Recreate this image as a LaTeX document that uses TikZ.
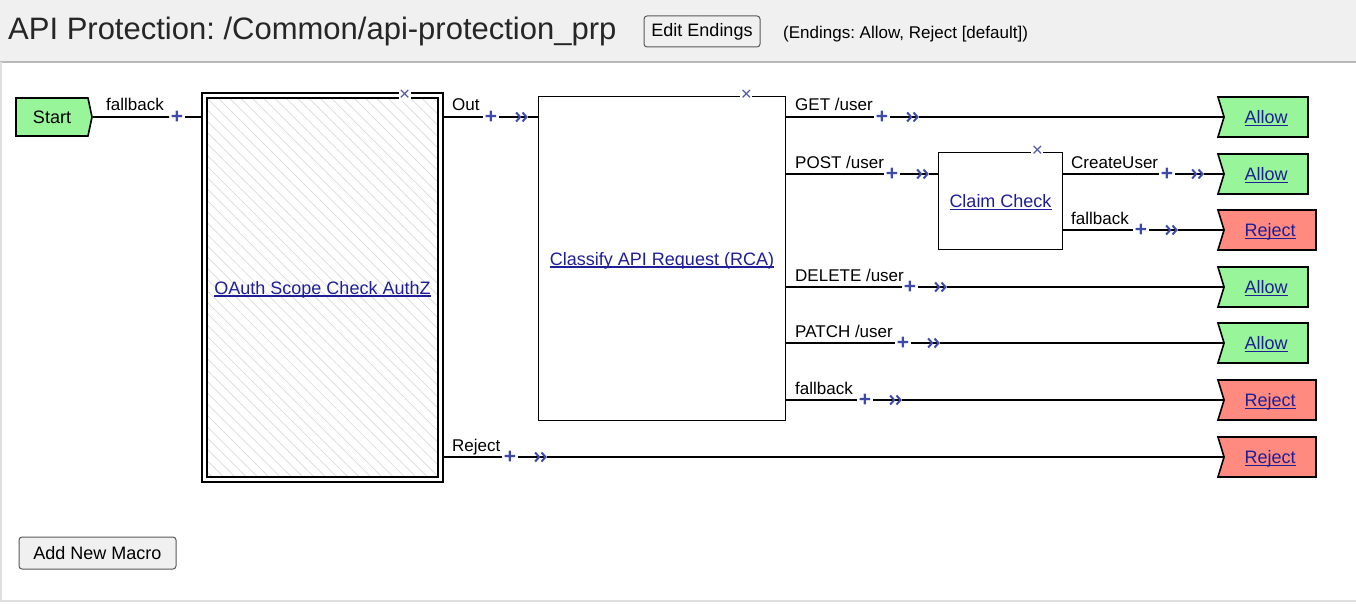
\documentclass[tikz,border=0pt]{standalone}
\usepackage{fontspec}
\setmainfont{Liberation Sans}
\usetikzlibrary{arrows.meta, positioning, shapes.symbols, patterns.meta}

\definecolor{okgreen}{RGB}{153,245,153}
\definecolor{nogred}{RGB}{255,138,128}
\definecolor{linkblue}{RGB}{30,30,150}
\definecolor{markblue}{RGB}{60,75,170}
\definecolor{hdrgray}{RGB}{240,240,240}

% underlined link text
\newcommand\lnk[1]{\sbox0{#1}\makebox[0pt][l]{\raisebox{-2.6pt}[0pt][0pt]{\rule{\wd0}{1.3pt}}}\usebox0}

\tikzset{chevs/.tip={Straight Barb[length=4pt, width=9pt, line width=2pt, color=markblue] Straight Barb[length=4pt, width=9pt, line width=2pt, color=markblue]}}

\begin{document}
\frenchspacing
\begin{tikzpicture}[
    x=1pt, y=-1pt,
    wire/.style={line width=1.6pt, black},
    lbl/.style={anchor=base west, inner sep=0pt, font=\fontsize{17}{20}\selectfont},
    plus/.style={text=markblue, font=\fontsize{21}{21}\selectfont\bfseries, inner sep=1.5pt},
    macrobox/.style={draw, line width=1.6pt, fill=white, inner sep=0pt, text=linkblue, font=\fontsize{18}{20}\selectfont, text height=13pt, text depth=0pt},
    ending/.style={signal, signal from=west, signal to=nowhere, signal pointer angle=146, draw, line width=1.6pt, minimum height=40pt, inner sep=0pt, text=linkblue, font=\fontsize{18}{20}\selectfont, text height=13pt, text depth=0pt},
    allow/.style={ending, fill=okgreen, minimum width=90pt},
    reject/.style={ending, fill=nogred, minimum width=98pt},
    xmark/.style={text=markblue!75!gray, fill=white, inner sep=0.5pt, font=\fontsize{19}{19}\selectfont},
    button/.style={draw=gray!70!black, fill=hdrgray, rounded corners=3pt, line width=1pt, inner sep=0pt, font=\fontsize{18}{20}\selectfont}
]
\useasboundingbox (0,0) rectangle (1356,604);

% header
\fill[hdrgray] (0,0) rectangle (1356,62);
\draw[gray!55, line width=1.5pt] (0,62) -- (1356,62);
\draw[gray!25, line width=2pt] (1,62) -- (1,601) -- (1356,601);
\node[anchor=base west, inner sep=0pt, font=\fontsize{31}{36}\selectfont, text=black!85] (title) at (8,40) {API Protection: /Common/api-protection\_prp};
\node[button, minimum width=116pt, minimum height=31pt] (edit) at (702,31.5) {Edit Endings};
\node[lbl] (note) at (783,39) {(Endings: Allow, Reject [default])};

% macro boxes
\node[signal, signal to=east, signal pointer angle=156, draw, line width=1.6pt, fill=okgreen, minimum width=76pt, minimum height=38pt, inner sep=0pt, font=\fontsize{18}{20}\selectfont, text height=13pt, text depth=0pt] (start) at (52,117) {Start};
\node[macrobox, double, double distance=3.5pt, line width=1.5pt, outer sep=3.25pt,
      pattern={Lines[angle=-45, distance=8pt, line width=0.7pt]}, pattern color=gray!30,
      minimum width=236pt, minimum height=384pt] (oauth) at (322.5,287.5) {\lnk{OAuth Scope Check AuthZ}};
\node[macrobox, minimum width=247pt, minimum height=324pt] (rca) at (662,258.5) {\lnk{Classify API Request (RCA)}};
\node[macrobox, minimum width=124pt, minimum height=97pt] (claim) at (1000.5,201) {\lnk{Claim Check}};
\node[xmark] (xo) at ([xshift=-39pt, yshift=-2.5pt]oauth.north east) {×};
\node[xmark] (xr) at ([xshift=-40pt]rca.north east) {×};
\node[xmark] (xc) at ([xshift=-26pt]claim.north east) {×};

% endings
\node[allow] (allowA) at (1266,117) {\lnk{Allow}};
\node[allow] (allowB) at (1266,174) {\lnk{Allow}};
\node[reject] (rejA) at (1270,230) {\lnk{Reject}};
\node[allow] (allowC) at (1266,287) {\lnk{Allow}};
\node[allow] (allowD) at (1266,343) {\lnk{Allow}};
\node[reject] (rejB) at (1270,400) {\lnk{Reject}};
\node[reject] (rejC) at (1270,457) {\lnk{Reject}};

% branch labels
\node[lbl] (lS) at (106,111) {fallback};
\node[lbl] (lO) at (452,111) {Out};
\node[lbl] (lR) at (452,451) {Reject};
\node[lbl] (lG) at (795,111) {GET /user};
\node[lbl] (lP) at (795,168) {POST /user};
\node[lbl] (lD) at (795,281) {DELETE /user};
\node[lbl] (lT) at (795,337) {PATCH /user};
\node[lbl] (lF) at (795,394) {fallback};
\node[lbl] (lCU) at (1071,168) {CreateUser};
\node[lbl] (lCF) at (1071,224) {fallback};

% plus marks and chevron points
\node[plus] (pS) at (177,117) {+};
\node[plus] (pO) at (491,117) {+};
\coordinate[right=29pt of pO] (cO);
\node[plus] (pR) at (510,457) {+};
\coordinate[right=29pt of pR] (cR);
\node[plus] (pG) at (882,117) {+};
\coordinate[right=29pt of pG] (cG);
\node[plus] (pP) at (892,174) {+};
\coordinate[right=29pt of pP] (cP);
\node[plus] (pD) at (910,287) {+};
\coordinate[right=29pt of pD] (cD);
\node[plus] (pT) at (903,343) {+};
\coordinate[right=29pt of pT] (cT);
\node[plus] (pF) at (865,400) {+};
\coordinate[right=29pt of pF] (cF);
\node[plus] (pCU) at (1167,174) {+};
\coordinate[right=29pt of pCU] (cCU);
\node[plus] (pCF) at (1141,230) {+};
\coordinate[right=29pt of pCF] (cCF);

% connectors
\draw[wire] (start) -- (pS);
\draw[wire] (pS) -- (pS -| oauth.west);
\draw[wire] (pO -| oauth.east) -- (pO);
\draw[wire, -chevs] (pO) -- (cO);
\draw[wire] (cO) -- (cO -| rca.west);
\draw[wire] (pR -| oauth.east) -- (pR);
\draw[wire, -chevs] (pR) -- (cR);
\draw[wire] (cR) -- (rejC);
\draw[wire] (pG -| rca.east) -- (pG);
\draw[wire, -chevs] (pG) -- (cG);
\draw[wire] (cG) -- (allowA);
\draw[wire] (pP -| rca.east) -- (pP);
\draw[wire, -chevs] (pP) -- (cP);
\draw[wire] (cP) -- (cP -| claim.west);
\draw[wire] (pD -| rca.east) -- (pD);
\draw[wire, -chevs] (pD) -- (cD);
\draw[wire] (cD) -- (allowC);
\draw[wire] (pT -| rca.east) -- (pT);
\draw[wire, -chevs] (pT) -- (cT);
\draw[wire] (cT) -- (allowD);
\draw[wire] (pF -| rca.east) -- (pF);
\draw[wire, -chevs] (pF) -- (cF);
\draw[wire] (cF) -- (rejB);
\draw[wire] (pCU -| claim.east) -- (pCU);
\draw[wire, -chevs] (pCU) -- (cCU);
\draw[wire] (cCU) -- (allowB);
\draw[wire] (pCF -| claim.east) -- (pCF);
\draw[wire, -chevs] (pCF) -- (cCF);
\draw[wire] (cCF) -- (rejA);

\node[button, minimum width=157pt, minimum height=32pt] (addmacro) at (97.5,553) {Add New Macro};
\end{tikzpicture}
\end{document}
